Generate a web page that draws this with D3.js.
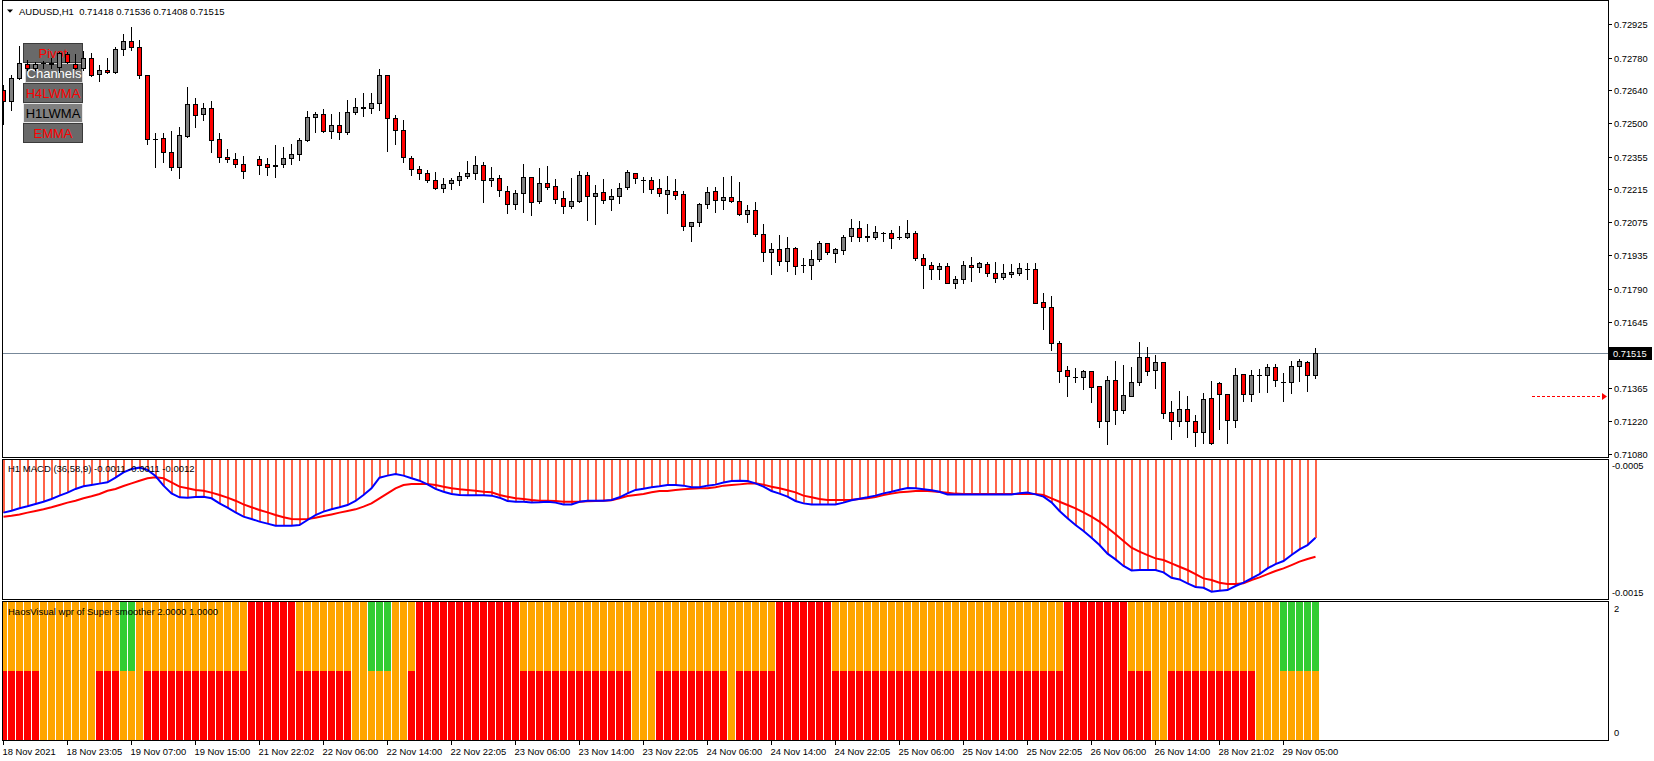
<!DOCTYPE html>
<html><head><meta charset="utf-8">
<script src="https://cdn.jsdelivr.net/npm/d3@7"></script>
<style>html,body{margin:0;padding:0;background:#fff;overflow:hidden}text{font-family:"Liberation Sans",Arial,sans-serif}</style>
</head><body>
<svg id="c" width="1654" height="761"></svg>
<script>
// ---------------- DATA ----------------
const symbol = "AUDUSD,H1";
const timeLabels = ["18 Nov 2021","18 Nov 23:05","19 Nov 07:00","19 Nov 15:00","21 Nov 22:02","22 Nov 06:00","22 Nov 14:00","22 Nov 22:05","23 Nov 06:00","23 Nov 14:00","23 Nov 22:05","24 Nov 06:00","24 Nov 14:00","24 Nov 22:05","25 Nov 06:00","25 Nov 14:00","25 Nov 22:05","26 Nov 06:00","26 Nov 14:00","28 Nov 21:02","29 Nov 05:00"];
const priceTicks = [0.72925,0.72780,0.72640,0.72500,0.72355,0.72215,0.72075,0.71935,0.71790,0.71645,0.71365,0.71220,0.71080];
const lastPrice = 0.71515;
const alertPrice = 0.71329;
const opens = [0.72641,0.72595,0.72692,0.72752,0.72735,0.72757,0.72755,0.72742,0.72798,0.72752,
0.72735,0.72778,0.72709,0.72727,0.72718,0.72818,0.72852,0.72825,0.72705,0.72433,
0.72435,0.72375,0.72313,0.72446,0.72581,0.72538,0.72564,0.72431,0.72353,0.72345,
0.72323,null,0.72345,0.72323,0.72318,0.72323,0.72349,0.72366,0.72426,0.72526,
0.72538,0.72465,0.72492,0.72461,0.72546,0.72566,0.72564,0.72585,0.72705,0.72521,
0.72469,0.72349,0.72303,0.72285,0.72255,0.72220,0.72242,0.72255,0.72272,0.72285,
0.72320,0.72255,0.72263,0.72208,0.72152,0.72199,0.72268,0.72165,0.72242,0.72229,
0.72179,0.72143,0.72165,0.72276,0.72185,0.72203,0.72173,0.72186,0.72225,0.72285,
0.72256,0.72256,0.72222,0.72195,0.72208,0.72195,0.72057,0.72075,0.72152,0.72208,
0.72169,0.72182,0.72165,0.72109,0.72126,0.72023,0.71946,0.71959,0.71907,0.71963,
0.71890,0.71890,0.71916,0.71984,0.71942,0.71954,0.72014,0.72049,0.72014,0.72010,
0.72030,0.72027,0.72010,0.72010,0.72027,0.71920,0.71890,0.71873,0.71886,0.71813,
0.71830,0.71890,0.71881,0.71896,0.71856,0.71839,0.71853,0.71856,0.71873,0.71873,
0.71731,0.71710,0.71555,0.71440,0.71412,0.71410,0.71435,0.71371,0.71221,0.71397,
0.71267,0.71328,0.71388,0.71495,0.71440,0.71474,0.71259,0.71221,0.71272,0.71221,
0.71174,0.71319,0.71384,0.71337,0.71225,0.71422,0.71337,0.71417,0.71418,0.71452,
0.71391,0.71388,0.71457,0.71474,0.71418];
const highs = [0.72664,0.72707,0.72831,0.72771,0.72764,0.72768,0.72778,0.72807,0.72807,0.72795,
0.72810,0.72800,0.72749,0.72778,0.72825,0.72882,0.72911,0.72857,0.72707,0.72456,
0.72456,0.72466,0.72482,0.72655,0.72608,0.72586,0.72595,0.72458,0.72388,0.72373,
0.72359,null,0.72359,0.72349,0.72406,0.72398,0.72409,0.72435,0.72551,0.72549,
0.72559,0.72539,0.72548,0.72599,0.72608,0.72629,0.72629,0.72732,0.72707,0.72535,
0.72514,0.72359,0.72316,0.72300,0.72290,0.72265,0.72263,0.72290,0.72339,0.72359,
0.72333,0.72312,0.72278,0.72230,0.72213,0.72325,0.72270,0.72308,0.72316,0.72260,
0.72209,0.72265,0.72295,0.72292,0.72235,0.72260,0.72219,0.72243,0.72299,0.72287,
0.72270,0.72269,0.72258,0.72273,0.72260,0.72209,0.72077,0.72156,0.72226,0.72226,
0.72269,0.72273,0.72248,0.72147,0.72162,0.72067,0.71986,0.72020,0.72012,0.71967,
0.71922,0.71956,0.71993,0.71986,0.71963,0.72020,0.72089,0.72080,0.72067,0.72059,
0.72033,0.72039,0.72059,0.72085,0.72037,0.71940,0.71904,0.71899,0.71899,0.71843,
0.71907,0.71924,0.71904,0.71902,0.71904,0.71896,0.71896,0.71900,0.71900,0.71900,
0.71771,0.71759,0.71565,0.71458,0.71450,0.71440,0.71437,0.71373,0.71415,0.71480,
0.71460,0.71454,0.71561,0.71540,0.71505,0.71476,0.71307,0.71350,0.71328,0.71248,
0.71341,0.71394,0.71388,0.71339,0.71448,0.71424,0.71440,0.71444,0.71465,0.71465,
0.71427,0.71480,0.71487,0.71478,0.71536];
const lows = [0.72495,0.72558,0.72688,0.72728,0.72728,0.72738,0.72735,0.72721,0.72757,0.72732,
0.72728,0.72704,0.72682,0.72714,0.72714,0.72794,0.72815,0.72692,0.72408,0.72313,
0.72335,0.72298,0.72266,0.72442,0.72481,0.72515,0.72375,0.72331,0.72332,0.72313,
0.72266,null,0.72280,0.72278,0.72270,0.72313,0.72323,0.72343,0.72425,0.72463,
0.72461,0.72438,0.72433,0.72452,0.72538,0.72532,0.72541,0.72558,0.72378,0.72412,
0.72331,0.72279,0.72259,0.72245,0.72219,0.72206,0.72219,0.72235,0.72263,0.72262,
0.72163,0.72232,0.72189,0.72116,0.72133,0.72120,0.72107,0.72155,0.72219,0.72159,
0.72116,0.72137,0.72163,0.72082,0.72065,0.72159,0.72125,0.72155,0.72219,0.72242,
0.72206,0.72198,0.72189,0.72116,0.72173,0.72039,0.71992,0.72060,0.72137,0.72120,
0.72133,0.72163,0.72106,0.72077,0.72017,0.71910,0.71854,0.71893,0.71867,0.71854,
0.71863,0.71833,0.71910,0.71936,0.71902,0.71940,0.71994,0.71996,0.71996,0.72004,
0.71996,0.71966,0.72003,0.72006,0.71914,0.71794,0.71829,0.71829,0.71812,0.71794,
0.71812,0.71824,0.71859,0.71843,0.71820,0.71829,0.71841,0.71850,0.71829,0.71726,
0.71618,0.71528,0.71391,0.71331,0.71387,0.71361,0.71305,0.71194,0.71121,0.71207,
0.71254,0.71327,0.71375,0.71418,0.71362,0.71234,0.71146,0.71198,0.71151,0.71116,
0.71129,0.71121,0.71189,0.71129,0.71194,0.71309,0.71309,0.71344,0.71344,0.71370,
0.71309,0.71340,0.71395,0.71352,0.71408];
const closes = [0.72595,0.72692,0.72757,0.72735,0.72755,0.72758,0.72757,0.72800,0.72761,0.72735,
0.72778,0.72705,0.72728,0.72718,0.72817,0.72852,0.72825,0.72705,0.72431,0.72432,
0.72375,0.72313,0.72448,0.72581,0.72535,0.72564,0.72426,0.72353,0.72345,0.72323,
0.72293,null,0.72319,0.72310,0.72317,0.72349,0.72366,0.72426,0.72525,0.72538,
0.72465,0.72492,0.72461,0.72548,0.72569,0.72568,0.72585,0.72705,0.72521,0.72469,
0.72353,0.72302,0.72285,0.72255,0.72220,0.72239,0.72255,0.72272,0.72285,0.72320,
0.72255,0.72265,0.72212,0.72152,0.72199,0.72268,0.72160,0.72242,0.72225,0.72173,
0.72143,0.72165,0.72276,0.72186,0.72199,0.72169,0.72186,0.72222,0.72290,0.72263,
0.72255,0.72216,0.72199,0.72212,0.72190,0.72057,0.72075,0.72152,0.72203,0.72169,
0.72182,0.72165,0.72109,0.72126,0.72022,0.71946,0.71959,0.71907,0.71963,0.71886,
0.71889,0.71916,0.71984,0.71946,0.71959,0.72010,0.72049,0.72010,0.72013,0.72032,
0.72029,0.72006,0.72009,0.72027,0.71919,0.71890,0.71873,0.71886,0.71813,0.71830,
0.71890,0.71881,0.71899,0.71856,0.71834,0.71856,0.71861,0.71877,0.71872,0.71727,
0.71710,0.71555,0.71438,0.71414,0.71411,0.71435,0.71367,0.71221,0.71397,0.71267,
0.71332,0.71388,0.71495,0.71438,0.71474,0.71255,0.71221,0.71272,0.71221,0.71174,
0.71315,0.71126,0.71337,0.71225,0.71418,0.71337,0.71418,0.71418,0.71452,0.71397,
0.71390,0.71457,0.71478,0.71418,0.71515];
const macdLabel = "H1 MACD (36,58,9) -0.0011 -0.0011 -0.0012";
const macdTicks = [-0.0005,-0.0015];
const macdMain = [-0.000868,-0.000853,-0.000834,-0.000818,-0.000800,-0.000782,-0.000760,-0.000734,-0.000710,-0.000681,
-0.000660,-0.000650,-0.000639,-0.000629,-0.000592,-0.000550,-0.000524,-0.000513,-0.000531,-0.000579,
-0.000655,-0.000716,-0.000747,-0.000750,-0.000745,-0.000742,-0.000755,-0.000795,-0.000829,-0.000866,
-0.000900,-0.000918,-0.000939,-0.000955,-0.000971,-0.000971,-0.000971,-0.000966,-0.000926,-0.000887,
-0.000860,-0.000842,-0.000826,-0.000808,-0.000776,-0.000729,-0.000676,-0.000592,-0.000576,-0.000563,
-0.000576,-0.000597,-0.000616,-0.000645,-0.000681,-0.000703,-0.000721,-0.000729,-0.000731,-0.000731,
-0.000731,-0.000734,-0.000750,-0.000776,-0.000782,-0.000782,-0.000789,-0.000787,-0.000782,-0.000789,
-0.000803,-0.000803,-0.000782,-0.000774,-0.000774,-0.000774,-0.000768,-0.000747,-0.000716,-0.000689,
-0.000679,-0.000668,-0.000660,-0.000650,-0.000650,-0.000655,-0.000668,-0.000668,-0.000655,-0.000647,
-0.000631,-0.000618,-0.000616,-0.000618,-0.000637,-0.000663,-0.000697,-0.000718,-0.000742,-0.000776,
-0.000795,-0.000803,-0.000803,-0.000803,-0.000803,-0.000789,-0.000771,-0.000758,-0.000747,-0.000734,
-0.000716,-0.000703,-0.000687,-0.000674,-0.000676,-0.000684,-0.000692,-0.000703,-0.000724,-0.000724,
-0.000724,-0.000724,-0.000724,-0.000724,-0.000724,-0.000724,-0.000724,-0.000716,-0.000710,-0.000724,
-0.000742,-0.000787,-0.000855,-0.000913,-0.000966,-0.001013,-0.001066,-0.001124,-0.001192,-0.001237,
-0.001289,-0.001324,-0.001321,-0.001321,-0.001321,-0.001339,-0.001382,-0.001395,-0.001426,-0.001455,
-0.001461,-0.001492,-0.001484,-0.001479,-0.001447,-0.001421,-0.001387,-0.001353,-0.001308,-0.001274,
-0.001250,-0.001203,-0.001158,-0.001124,-0.001066];
const macdSignal = [-0.000900,-0.000892,-0.000882,-0.000868,-0.000855,-0.000842,-0.000826,-0.000808,-0.000789,-0.000774,
-0.000755,-0.000739,-0.000721,-0.000695,-0.000681,-0.000658,-0.000637,-0.000616,-0.000597,-0.000589,
-0.000597,-0.000629,-0.000663,-0.000676,-0.000689,-0.000695,-0.000710,-0.000729,-0.000750,-0.000774,
-0.000803,-0.000826,-0.000847,-0.000866,-0.000887,-0.000905,-0.000918,-0.000921,-0.000918,-0.000908,
-0.000895,-0.000882,-0.000868,-0.000855,-0.000842,-0.000821,-0.000795,-0.000755,-0.000716,-0.000676,
-0.000650,-0.000642,-0.000642,-0.000642,-0.000650,-0.000663,-0.000676,-0.000684,-0.000689,-0.000695,
-0.000703,-0.000708,-0.000729,-0.000742,-0.000755,-0.000760,-0.000768,-0.000774,-0.000774,-0.000776,
-0.000782,-0.000782,-0.000782,-0.000779,-0.000776,-0.000774,-0.000771,-0.000755,-0.000737,-0.000729,
-0.000721,-0.000708,-0.000697,-0.000697,-0.000689,-0.000684,-0.000679,-0.000676,-0.000676,-0.000668,
-0.000655,-0.000650,-0.000645,-0.000639,-0.000637,-0.000647,-0.000663,-0.000676,-0.000692,-0.000708,
-0.000734,-0.000747,-0.000760,-0.000768,-0.000768,-0.000768,-0.000766,-0.000760,-0.000755,-0.000745,
-0.000729,-0.000718,-0.000708,-0.000703,-0.000697,-0.000695,-0.000700,-0.000705,-0.000712,-0.000718,
-0.000721,-0.000721,-0.000721,-0.000721,-0.000721,-0.000721,-0.000721,-0.000721,-0.000721,-0.000721,
-0.000729,-0.000755,-0.000782,-0.000808,-0.000834,-0.000866,-0.000900,-0.000939,-0.000987,-0.001039,
-0.001092,-0.001145,-0.001176,-0.001203,-0.001229,-0.001242,-0.001268,-0.001295,-0.001321,-0.001353,
-0.001387,-0.001400,-0.001421,-0.001432,-0.001432,-0.001426,-0.001400,-0.001379,-0.001353,-0.001329,
-0.001308,-0.001282,-0.001255,-0.001234,-0.001216];
const wprLabel = "HaosVisual wpr of Super smoother 2.0000 1.0000";
const wprTicks = [2,0];
// state of each bar: r = red, o = orange, g = green
const wprLower = ("rrrrrooooo oorrrooorr rrrrrrrrrr rrrrrrrrrr rrrroooooo orrrrrrrrr rrrrrrrrrr rrrrrrrrro " +
  "oorrrrrrrr rorrrrrrrr rrrrrrrrrr rrrrrrrrrr rrrrrrrrrr rrrrrrrrrr rrrroorrrr rrrrrrrooo ooooo").replace(/ /g,"").split("");
const wprUpper = ("oooooooooo oooooggooo oooooooooo orrrrrrooo oooooogggo oorrrrrrrr rrrrrooooo oooooooooo " +
  "oooooooooo ooooooorrr rrrroooooo oooooooooo oooooooooo ooorrrrrrr rooooooooo oooooooooo ggggg").replace(/ /g,"").split("");
const buttons = [
  {label:"Pivot",    x0:23, x1:83, y0:43,  y1:63,  fill:"#696969", text:"#FF0000", stroke:"#3a3a3a"},
  {label:"Channels", x0:25, x1:83, y0:63,  y1:83,  fill:"#696969", text:"#FFFFFF", stroke:"#d8d8d8"},
  {label:"H4LWMA",   x0:23, x1:83, y0:83,  y1:103, fill:"#696969", text:"#FF0000", stroke:"#3a3a3a"},
  {label:"H1LWMA",   x0:23, x1:83, y0:103, y1:123, fill:"#808080", text:"#000000", stroke:"#e8e8e8"},
  {label:"EMMA",     x0:23, x1:83, y0:123, y1:143, fill:"#696969", text:"#FF0000", stroke:"#3a3a3a"}
];

// ---------------- LAYOUT ----------------
const svg = d3.select("#c");
const L = 2.5, R = 1608.5;
const P = {main:[0.5,457.5], macd:[459.5,599.5], wpr:[601.5,740.5]};
const n = closes.length;
const x = d3.scaleLinear().domain([0, n-1]).range([3.5, 3.5 + 8*(n-1)]);
const y = d3.scaleLinear().domain([0.71080, 0.72925]).range([454, 24]);
const yM = d3.scaleLinear().domain([-0.0015, -0.0005]).range([592.7, 466]);
const yW = d3.scaleLinear().domain([0, 2]).range([733, 609]);
const fontAxis = 9.3;

const defs = svg.append("defs");
Object.entries(P).forEach(([k,[t,b]])=>{
  defs.append("clipPath").attr("id","clip-"+k).append("rect")
    .attr("x",L+0.5).attr("y",t+0.5).attr("width",R-L-1).attr("height",b-t-1);
});

svg.append("rect").attr("width",1654).attr("height",761).attr("fill","#fff");

// ---- main panel ----
const gMain = svg.append("g").attr("clip-path","url(#clip-main)");
const gb = gMain.append("g");
buttons.forEach(b=>{
  gb.append("rect").attr("x",b.x0+0.5).attr("y",b.y0+0.5).attr("width",b.x1-b.x0-1).attr("height",b.y1-b.y0-1)
    .attr("fill",b.fill).attr("stroke",b.stroke).attr("stroke-width",1);
  gb.append("text").attr("x",(b.x0+b.x1)/2).attr("y",(b.y0+b.y1)/2+0.5).attr("text-anchor","middle")
    .attr("dominant-baseline","central").attr("font-size",13).attr("fill",b.text).text(b.label);
});
gMain.append("line").attr("x1",L).attr("x2",R).attr("y1",Math.round(y(lastPrice))+0.5).attr("y2",Math.round(y(lastPrice))+0.5)
  .attr("stroke","#778899").attr("stroke-width",1);
const gc = gMain.append("g").attr("shape-rendering","crispEdges");
for (let i=0;i<n;i++){
  if (opens[i]==null) continue;
  const cx = x(i), o=opens[i], c=closes[i];
  const yh = Math.round(y(highs[i])), yl = Math.round(y(lows[i]));
  const yt = Math.round(y(Math.max(o,c))), ybt = Math.round(y(Math.min(o,c)));
  gc.append("line").attr("x1",cx).attr("x2",cx).attr("y1",yh).attr("y2",yl+1).attr("stroke","#000");
  if (ybt - yt < 1){
    gc.append("line").attr("x1",cx-2.5).attr("x2",cx+2.5).attr("y1",yt+0.5).attr("y2",yt+0.5).attr("stroke","#000");
  } else {
    gc.append("rect").attr("x",cx-2).attr("y",yt+0.5).attr("width",4).attr("height",ybt-yt)
      .attr("fill", c>=o ? "#808080" : "#FF0000").attr("stroke","#000").attr("stroke-width",1);
  }
}
const ya = Math.round(y(alertPrice))+0.5;
gMain.append("line").attr("x1",1532).attr("x2",1602).attr("y1",ya).attr("y2",ya)
  .attr("stroke","#FF0000").attr("stroke-dasharray","3,2").attr("stroke-width",1);
gMain.append("path").attr("d",`M1602,${ya-3.5} L1607,${ya} L1602,${ya+3.5} Z`).attr("fill","#FF0000");

svg.append("path").attr("d","M7,9.5 L13,9.5 L10,12.7 Z").attr("fill","#000");
svg.append("text").attr("x",19).attr("y",11).attr("dominant-baseline","central").attr("font-size",9.5)
  .attr("fill","#000").attr("xml:space","preserve")
  .text(`${symbol}  ${opens[n-1].toFixed(5)} ${highs[n-1].toFixed(5)} ${lows[n-1].toFixed(5)} ${closes[n-1].toFixed(5)}`);

// ---- MACD panel ----
const gM = svg.append("g").attr("clip-path","url(#clip-macd)");
gM.append("g").attr("shape-rendering","crispEdges").selectAll("rect").data(macdMain).join("rect")
  .attr("x",(d,i)=>x(i)-0.5).attr("width",2)
  .attr("y",P.macd[0]).attr("height",d=>Math.max(0,yM(d)-P.macd[0]))
  .attr("fill","#FF6347");
const line = d3.line().x((d,i)=>x(i)).y(d=>yM(d));
gM.append("path").attr("d",line(macdSignal)).attr("fill","none").attr("stroke","#FF0000").attr("stroke-width",2);
gM.append("path").attr("d",line(macdMain)).attr("fill","none").attr("stroke","#0000FF").attr("stroke-width",2);
svg.append("text").attr("x",8).attr("y",468.5).attr("dominant-baseline","central").attr("font-size",9.5)
  .attr("fill","#000").text(macdLabel);

// ---- WPR panel ----
const colorOf = {r:"#FF0000", o:"#FFA500", g:"#32CD32"};
const gW = svg.append("g").attr("clip-path","url(#clip-wpr)").attr("shape-rendering","crispEdges");
gW.selectAll("rect.lo").data(wprLower).join("rect").attr("class","lo")
  .attr("x",(d,i)=>x(i)-3.5).attr("width",7)
  .attr("y",yW(1)).attr("height",P.wpr[1]-yW(1)).attr("fill",d=>colorOf[d]);
gW.selectAll("rect.up").data(wprUpper).join("rect").attr("class","up")
  .attr("x",(d,i)=>x(i)-3.5).attr("width",7)
  .attr("y",P.wpr[0]).attr("height",yW(1)-P.wpr[0]).attr("fill",d=>colorOf[d]);
svg.append("text").attr("x",8).attr("y",611).attr("dominant-baseline","central").attr("font-size",9.5)
  .attr("fill","#000").text(wprLabel);

// ---- frames ----
const gf = svg.append("g").attr("fill","none").attr("stroke","#000").attr("stroke-width",1).attr("shape-rendering","crispEdges");
Object.values(P).forEach(([t,b])=>{
  gf.append("rect").attr("x",L).attr("y",t).attr("width",R-L).attr("height",b-t);
});

// ---- price axis ----
const ga = svg.append("g");
priceTicks.forEach(p=>{
  const yy = Math.round(y(p))+0.5;
  ga.append("line").attr("x1",R).attr("x2",R+3.5).attr("y1",yy).attr("y2",yy).attr("stroke","#000").attr("shape-rendering","crispEdges");
  ga.append("text").attr("x",1614).attr("y",yy).attr("dominant-baseline","central").attr("font-size",fontAxis)
    .attr("fill","#000").text(p.toFixed(5));
});
const yl = Math.round(y(lastPrice))+0.5;
ga.append("rect").attr("x",1609).attr("y",yl-6.5).attr("width",43).attr("height",13).attr("fill","#000");
ga.append("text").attr("x",1613).attr("y",yl).attr("dominant-baseline","central").attr("font-size",fontAxis)
  .attr("fill","#fff").text(lastPrice.toFixed(5));
macdTicks.forEach(v=>{
  ga.append("text").attr("x",1612).attr("y",yM(v)).attr("dominant-baseline","central").attr("font-size",fontAxis)
    .attr("fill","#000").text(v.toFixed(4));
});
wprTicks.forEach(v=>{
  ga.append("text").attr("x",1614).attr("y",yW(v)).attr("dominant-baseline","central").attr("font-size",fontAxis)
    .attr("fill","#000").text(String(v));
});

// ---- time axis ----
const gt = svg.append("g");
timeLabels.forEach((lab,k)=>{
  const xx = x(k*8);
  gt.append("line").attr("x1",xx).attr("x2",xx).attr("y1",740.5).attr("y2",745).attr("stroke","#000").attr("shape-rendering","crispEdges");
  gt.append("text").attr("x",xx-1).attr("y",751).attr("dominant-baseline","central").attr("font-size",9.4)
    .attr("fill","#000").text(lab);
});
</script>
</body></html>
